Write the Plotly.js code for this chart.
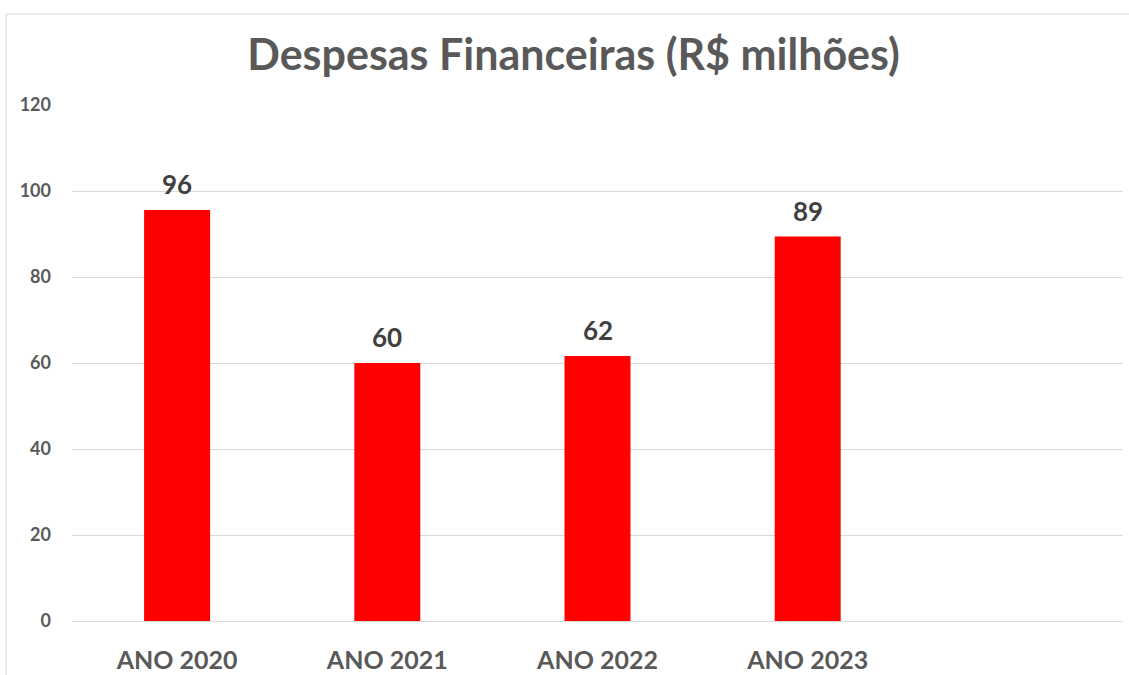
<!DOCTYPE html>
<html>
<head>
<meta charset="utf-8">
<script src="https://cdn.plot.ly/plotly-3.0.1.min.js"></script>
<style>
  html, body { margin: 0; padding: 0; background: #fff; }
  #chart { width: 1129px; height: 675px; }
</style>
</head>
<body>
<div id="chart"></div>
<script>
let anos = ['ANO 2020', 'ANO 2021', 'ANO 2022', 'ANO 2023'];
let despesas = [95.6, 60.0, 61.6, 89.4];
let rotulos = ['96', '60', '62', '89'];
let yTicks = [0, 20, 40, 60, 80, 100, 120];

let fonte = 'Lato, "Open Sans", sans-serif';

let barras = {
  x: anos,
  y: despesas,
  type: 'bar',
  marker: {
    color: '#ff0000',
    line: { width: 0 }
  },
  hoverinfo: 'x+y'
};

// rótulos de dados acima das barras
let notas = anos.map((a, i) => ({
  x: a,
  y: despesas[i],
  text: rotulos[i],
  showarrow: false,
  yanchor: 'bottom',
  yshift: 8,
  font: { family: fonte, size: 26, color: '#404040', weight: 'bold' }
}));

let layout = {
  width: 1129,
  height: 675,
  margin: { l: 72, r: 6, t: 105, b: 54 },
  paper_bgcolor: '#ffffff',
  plot_bgcolor: '#ffffff',
  showlegend: false,
  bargap: 0.686,
  title: {
    text: '<b>Despesas Financeiras (R$ milhões)</b>',
    x: 0.508,
    xanchor: 'center',
    y: 0.918,
    yanchor: 'middle',
    font: { family: fonte, size: 43, color: '#595959' }
  },
  xaxis: {
    type: 'category',
    range: [-0.5, 4.5],
    showgrid: false,
    showline: false,
    zeroline: false,
    ticks: '',
    ticklabelstandoff: 22,
    tickfont: { family: fonte, size: 25, color: '#595959', weight: 'bold' }
  },
  yaxis: {
    range: [0, 120],
    tickvals: yTicks,
    showgrid: true,
    gridcolor: '#d9d9d9',
    gridwidth: 1,
    zeroline: true,
    zerolinecolor: '#d9d9d9',
    zerolinewidth: 1,
    showline: false,
    ticks: '',
    ticklabelstandoff: 20,
    tickfont: { family: fonte, size: 18, color: '#595959', weight: 'bold' }
  },
  annotations: notas,
  shapes: [
    { type: 'line', xref: 'paper', yref: 'paper', x0: -0.0628, x1: 1.01, y0: 1.1764, y1: 1.1764,
      line: { color: '#d9d9d9', width: 1 } },
    { type: 'line', xref: 'paper', yref: 'paper', x0: -0.0628, x1: -0.0628, y0: -0.11, y1: 1.1764,
      line: { color: '#d9d9d9', width: 1 } }
  ]
};

Plotly.newPlot('chart', [barras], layout, { displayModeBar: false });
</script>
</body>
</html>
